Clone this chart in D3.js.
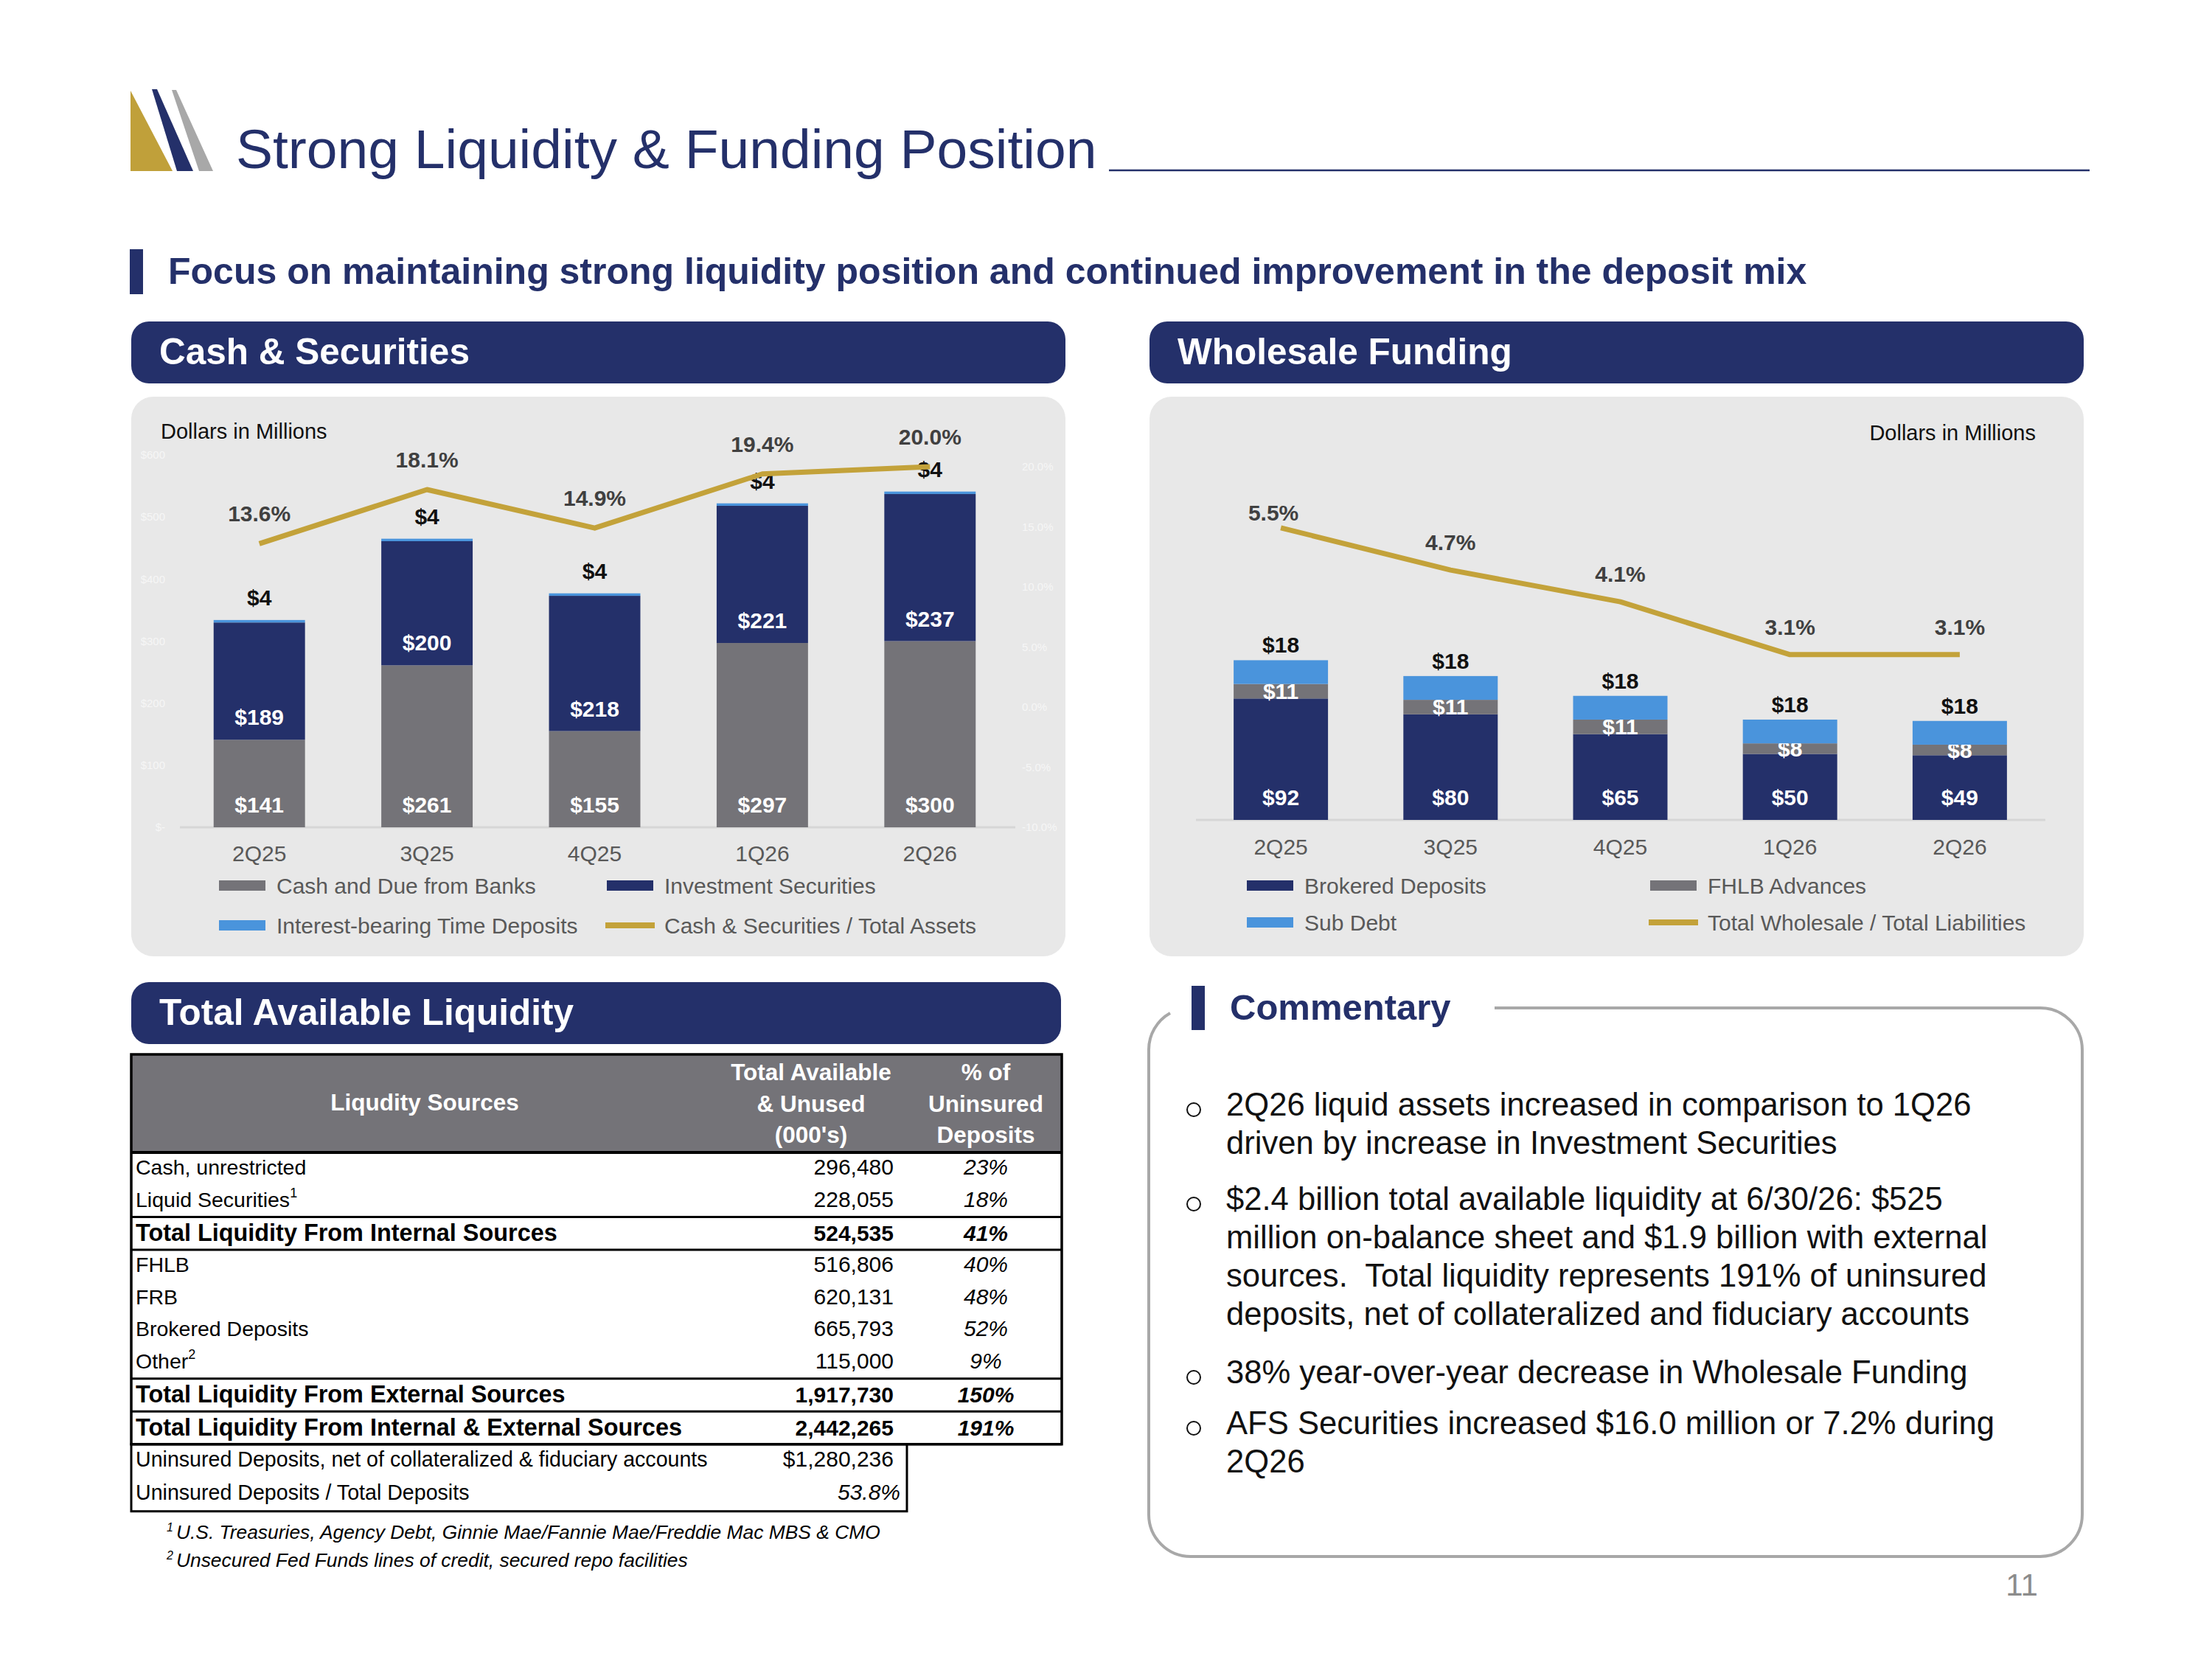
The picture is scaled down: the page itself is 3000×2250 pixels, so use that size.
<!DOCTYPE html>
<html>
<head>
<meta charset="utf-8">
<script src="https://cdn.jsdelivr.net/npm/d3@7"></script>
<style>
	body { margin: 0; background: #fff; }
	svg { display: block; font-family: "Liberation Sans", Arial, Helvetica, sans-serif; }
</style>
</head>
<body>
<div id="slide"></div>
<script>
/* ---- data ---- */
var quarters = ["2Q25", "3Q25", "4Q25", "1Q26", "2Q26"];

// Cash & Securities, $ millions
var cashDue = [141, 261, 155, 297, 300];
var investSec = [189, 200, 218, 221, 237];
var timeDeposits = [4, 4, 4, 4, 4];
var cashToAssets = [13.6, 18.1, 14.9, 19.4, 20.0];

// Wholesale Funding, $ millions
var brokered = [92, 80, 65, 50, 49];
var fhlbAdv = [11, 11, 11, 8, 8];
var subDebt = [18, 18, 18, 18, 18];
var wholesaleToLiab = [5.5, 4.7, 4.1, 3.1, 3.1];

// Total Available Liquidity table
var liqLabels = ["Cash, unrestricted", "Liquid Securities", "Total Liquidity From Internal Sources",
	"FHLB", "FRB", "Brokered Deposits", "Other",
	"Total Liquidity From External Sources", "Total Liquidity From Internal & External Sources"];
var liqSup = ["", "1", "", "", "", "", "2", "", ""];
var liqAmounts = [296480, 228055, 524535, 516806, 620131, 665793, 115000, 1917730, 2442265];
var liqPctUninsured = [23, 18, 41, 40, 48, 52, 9, 150, 191];
var liqTotals = [false, false, true, false, false, false, false, true, true];
var uninsuredLabels = ["Uninsured Deposits, net of collateralized & fiduciary accounts", "Uninsured Deposits / Total Deposits"];
var uninsuredValues = ["$1,280,236", "53.8%"];
var footnotes = ["U.S. Treasuries, Agency Debt, Ginnie Mae/Fannie Mae/Freddie Mac MBS & CMO",
	"Unsecured Fed Funds lines of credit, secured repo facilities"];

var commentary = [
	["2Q26 liquid assets increased in comparison to 1Q26", "driven by increase in Investment Securities"],
	["$2.4 billion total available liquidity at 6/30/26: $525", "million on-balance sheet and $1.9 billion with external",
		"sources.  Total liquidity represents 191% of uninsured", "deposits, net of collateralized and fiduciary accounts"],
	["38% year-over-year decrease in Wholesale Funding"],
	["AFS Securities increased $16.0 million or 7.2% during", "2Q26"]
];

/* ---- style ---- */
var NAVY = "#24306a", GRAY = "#747378", BLUE = "#4a94dc", GOLD = "#c3a23a",
	PANEL = "#e8e8e8", TXT = "#595959", LBL = "#404040";

var svg = d3.select("#slide").append("svg").attr("width", 3000).attr("height", 2250);
svg.append("rect").attr("width", 3000).attr("height", 2250).attr("fill", "#fff");

/* ---- title ---- */
var logo = svg.append("g");
logo.append("polygon").attr("points", "177,123 177,232 234,232").attr("fill", "#c0a03a");
logo.append("polygon").attr("points", "206,121 213,121 262,232 240,232").attr("fill", NAVY);
logo.append("polygon").attr("points", "233,122 239,122 289,232 270,232").attr("fill", "#a8a8a8");

svg.append("text").attr("x", 320).attr("y", 228)
	.attr("font-size", 75).attr("fill", NAVY)
	.text("Strong Liquidity & Funding Position");
svg.append("line").attr("x1", 1504).attr("x2", 2834).attr("y1", 231).attr("y2", 231)
	.attr("stroke", NAVY).attr("stroke-width", 2.5);

svg.append("rect").attr("x", 176).attr("y", 338).attr("width", 18).attr("height", 61).attr("fill", NAVY);
svg.append("text").attr("x", 228).attr("y", 385)
	.attr("font-size", 50).attr("font-weight", "bold").attr("fill", NAVY)
	.text("Focus on maintaining strong liquidity position and continued improvement in the deposit mix");

function header(x, y, w, label) {
	svg.append("rect").attr("x", x).attr("y", y).attr("width", w).attr("height", 84)
		.attr("rx", 24).attr("fill", NAVY);
	svg.append("text").attr("x", x + 38).attr("y", y + 58)
		.attr("font-size", 49.5).attr("font-weight", "bold").attr("fill", "#fff").text(label);
}
header(178, 436, 1267, "Cash & Securities");
header(1559, 436, 1267, "Wholesale Funding");
header(178, 1332, 1261, "Total Available Liquidity");

svg.append("rect").attr("x", 178).attr("y", 538).attr("width", 1267).attr("height", 759).attr("rx", 30).attr("fill", PANEL);
svg.append("rect").attr("x", 1559).attr("y", 538).attr("width", 1267).attr("height", 759).attr("rx", 30).attr("fill", PANEL);

function legend(items) {
	items.forEach(function(it) {
		var g = svg.append("g").attr("transform", "translate(" + it.x + "," + it.y + ")");
		if (it.line) {
			g.append("line").attr("x1", -2).attr("x2", 65).attr("stroke", it.color).attr("stroke-width", 8);
		} else {
			g.append("rect").attr("x", 0).attr("y", -7).attr("width", 63).attr("height", 14).attr("fill", it.color);
		}
		g.append("text").attr("x", 78).attr("y", 10.5).attr("font-size", 30).attr("fill", TXT).text(it.label);
	});
}

/* ---- Cash & Securities chart ---- */
var cashRows = quarters.map(function(q, i) {
	return { q: q, cash: cashDue[i], inv: investSec[i], tdep: timeDeposits[i], pct: cashToAssets[i] };
});
var xC = d3.scaleBand().domain(quarters).range([238, 1375]).paddingInner(0.455).paddingOuter(0.2275);
var yC = d3.scaleLinear().domain([0, 600]).range([1122, 617]);
var yCR = d3.scaleLinear().domain([-10, 20]).range([1122, 633]);
var cashColors = { cash: GRAY, inv: NAVY, tdep: BLUE };
var cashStack = d3.stack().keys(["cash", "inv", "tdep"])(cashRows);

var gC = svg.append("g");
gC.append("g").attr("transform", "translate(228,0)")
	.call(d3.axisLeft(yC).ticks(6).tickSize(0).tickPadding(4).tickFormat(function(d) { return d === 0 ? "$-" : "$" + d; }))
	.call(function(a) { a.select(".domain").remove(); a.selectAll("text").attr("fill", "#f6f6f6").attr("font-size", 15).attr("font-family", null); });
gC.append("g").attr("transform", "translate(1382,0)")
	.call(d3.axisRight(yCR).ticks(6).tickSize(0).tickPadding(4).tickFormat(function(d) { return d.toFixed(1) + "%"; }))
	.call(function(a) { a.select(".domain").remove(); a.selectAll("text").attr("fill", "#f6f6f6").attr("font-size", 15).attr("font-family", null); });

gC.append("line").attr("x1", 244).attr("x2", 1377).attr("y1", yC(0)).attr("y2", yC(0))
	.attr("stroke", "#d6d6d6").attr("stroke-width", 3);

cashStack.forEach(function(layer) {
	gC.append("g").attr("fill", cashColors[layer.key]).selectAll("rect").data(layer).enter().append("rect")
		.attr("x", function(d) { return xC(d.data.q); })
		.attr("width", xC.bandwidth())
		.attr("y", function(d) { return yC(d[1]); })
		.attr("height", function(d) { return yC(d[0]) - yC(d[1]); });
	gC.append("g").selectAll("text").data(layer).enter().append("text")
		.attr("x", function(d) { return xC(d.data.q) + xC.bandwidth() / 2; })
		.attr("y", function(d) { return layer.key === "tdep" ? yC(d[1]) - 20 : yC(d[0]) - 20; })
		.attr("text-anchor", "middle").attr("font-size", 30).attr("font-weight", "bold")
		.attr("fill", layer.key === "tdep" ? "#111" : "#fff")
		.text(function(d) { return "$" + d.data[layer.key]; });
});

var lineC = d3.line().x(function(d) { return xC(d.q) + xC.bandwidth() / 2; }).y(function(d) { return yCR(d.pct); });
gC.append("path").datum(cashRows).attr("d", lineC).attr("fill", "none")
	.attr("stroke", GOLD).attr("stroke-width", 7).attr("stroke-linejoin", "round");
gC.append("g").selectAll("text").data(cashRows).enter().append("text")
	.attr("x", function(d) { return xC(d.q) + xC.bandwidth() / 2; })
	.attr("y", function(d) { return yCR(d.pct) - 30; })
	.attr("text-anchor", "middle").attr("font-size", 30).attr("font-weight", "bold").attr("fill", LBL)
	.text(function(d) { return d.pct.toFixed(1) + "%"; });

gC.append("g").attr("transform", "translate(0," + yC(0) + ")")
	.call(d3.axisBottom(xC).tickSize(0).tickPadding(0))
	.call(function(a) { a.select(".domain").remove(); a.selectAll("text").attr("y", 46).attr("dy", null).attr("fill", TXT).attr("font-size", 30).attr("font-family", null); });

gC.append("text").attr("x", 218).attr("y", 595).attr("font-size", 29).attr("fill", "#111").text("Dollars in Millions");

legend([
	{ x: 297, y: 1201, color: GRAY, label: "Cash and Due from Banks" },
	{ x: 823, y: 1201, color: NAVY, label: "Investment Securities" },
	{ x: 297, y: 1255, color: BLUE, label: "Interest-bearing Time Deposits" },
	{ x: 823, y: 1255, color: GOLD, label: "Cash & Securities / Total Assets", line: true }
]);

/* ---- Wholesale Funding chart ---- */
var wsRows = quarters.map(function(q, i) {
	return { q: q, brk: brokered[i], fhlb: fhlbAdv[i], sub: subDebt[i], pct: wholesaleToLiab[i] };
});
var xW = d3.scaleBand().domain(quarters).range([1622, 2773]).paddingInner(0.444).paddingOuter(0.222);
var yW = d3.scaleLinear().domain([0, 100]).range([1112, 933]);
var yWR = d3.scaleLinear().domain([0, 6]).range([1110, 680]);
var wsColors = { brk: NAVY, fhlb: GRAY, sub: BLUE };
var wsStack = d3.stack().keys(["brk", "fhlb", "sub"])(wsRows);

var gW = svg.append("g");
gW.append("line").attr("x1", 1622).attr("x2", 2774).attr("y1", yW(0)).attr("y2", yW(0))
	.attr("stroke", "#d6d6d6").attr("stroke-width", 3);

wsStack.forEach(function(layer) {
	gW.append("g").attr("fill", wsColors[layer.key]).selectAll("rect").data(layer).enter().append("rect")
		.attr("x", function(d) { return xW(d.data.q); })
		.attr("width", xW.bandwidth())
		.attr("y", function(d) { return yW(d[1]); })
		.attr("height", function(d) { return yW(d[0]) - yW(d[1]); });
	gW.append("g").selectAll("text").data(layer).enter().append("text")
		.attr("x", function(d) { return xW(d.data.q) + xW.bandwidth() / 2; })
		.attr("y", function(d) {
			if (layer.key === "sub") return yW(d[1]) - 10;
			if (layer.key === "fhlb") return (yW(d[0]) + yW(d[1])) / 2 + 10.5;
			return yW(d[0]) - 20;
		})
		.attr("text-anchor", "middle").attr("font-size", 30).attr("font-weight", "bold")
		.attr("fill", layer.key === "sub" ? "#111" : "#fff")
		.text(function(d) { return "$" + d.data[layer.key]; });
});

var lineW = d3.line().x(function(d) { return xW(d.q) + xW.bandwidth() / 2; }).y(function(d) { return yWR(d.pct); });
gW.append("path").datum(wsRows).attr("d", lineW).attr("fill", "none")
	.attr("stroke", GOLD).attr("stroke-width", 7).attr("stroke-linejoin", "round");
gW.append("g").selectAll("text").data(wsRows).enter().append("text")
	.attr("x", function(d, i) { return xW(d.q) + xW.bandwidth() / 2 - (i === 0 ? 10 : 0); })
	.attr("y", function(d, i) { return yWR(d.pct) - (i === 0 ? 10 : 27); })
	.attr("text-anchor", "middle").attr("font-size", 30).attr("font-weight", "bold").attr("fill", LBL)
	.text(function(d) { return d.pct.toFixed(1) + "%"; });

gW.append("g").attr("transform", "translate(0," + yW(0) + ")")
	.call(d3.axisBottom(xW).tickSize(0).tickPadding(0))
	.call(function(a) { a.select(".domain").remove(); a.selectAll("text").attr("y", 47).attr("dy", null).attr("fill", TXT).attr("font-size", 30).attr("font-family", null); });

gW.append("text").attr("x", 2761).attr("y", 597).attr("text-anchor", "end")
	.attr("font-size", 29).attr("fill", "#111").text("Dollars in Millions");

legend([
	{ x: 1691, y: 1201, color: NAVY, label: "Brokered Deposits" },
	{ x: 2238, y: 1201, color: GRAY, label: "FHLB Advances" },
	{ x: 1691, y: 1251, color: BLUE, label: "Sub Debt" },
	{ x: 2238, y: 1251, color: GOLD, label: "Total Wholesale / Total Liabilities", line: true }
]);

/* ---- Liquidity table ---- */
var T = svg.append("g");
var tL = 178, tR = 1440, tTop = 1430, tHead = 1563, amtX = 1212, pctX = 1337;
T.append("rect").attr("x", tL).attr("y", tTop).attr("width", tR - tL).attr("height", tHead - tTop).attr("fill", GRAY);
T.append("text").attr("x", 576).attr("y", 1506).attr("text-anchor", "middle")
	.attr("font-size", 31.5).attr("font-weight", "bold").attr("fill", "#fff").text("Liqudity Sources");
[["Total Available", "& Unused", "(000's)", 1100], ["% of", "Uninsured", "Deposits", pctX]].forEach(function(h) {
	[0, 1, 2].forEach(function(k) {
		T.append("text").attr("x", h[3]).attr("y", 1465 + k * 42.5).attr("text-anchor", "middle")
			.attr("font-size", 31.5).attr("font-weight", "bold").attr("fill", "#fff").text(h[k]);
	});
});

var fmt = d3.format(",");
var cursor = tHead;
var seps = [tHead];
liqLabels.forEach(function(lab, i) {
	var bold = liqTotals[i];
	var h = bold ? 44.5 : 43.7;
	var base = cursor + (bold ? 32.5 : 30);
	var t = T.append("text").attr("x", 184).attr("y", base)
		.attr("font-size", bold ? 32.4 : 28.5).attr("font-weight", bold ? "bold" : "normal").attr("fill", "#000").text(lab);
	if (liqSup[i]) t.append("tspan").attr("font-size", 18).attr("dy", -13).text(liqSup[i]);
	T.append("text").attr("x", amtX).attr("y", base).attr("text-anchor", "end")
		.attr("font-size", 30).attr("font-weight", bold ? "bold" : "normal").text(fmt(liqAmounts[i]));
	T.append("text").attr("x", pctX).attr("y", base).attr("text-anchor", "middle")
		.attr("font-size", 30).attr("font-style", "italic").attr("font-weight", bold ? "bold" : "normal")
		.text(liqPctUninsured[i] + "%");
	cursor += h;
	if (bold || liqTotals[i + 1]) seps.push(cursor);
});
T.selectAll("line.sep").data(seps).enter().append("line")
	.attr("x1", tL).attr("x2", tR).attr("y1", function(d) { return d; }).attr("y2", function(d) { return d; })
	.attr("stroke", "#000").attr("stroke-width", function(d, i) { return i === 0 ? 4 : 3; });
T.append("rect").attr("x", tL).attr("y", tTop).attr("width", tR - tL).attr("height", cursor - tTop)
	.attr("fill", "none").attr("stroke", "#000").attr("stroke-width", 3.5);

var uTop = cursor;
uninsuredLabels.forEach(function(lab, i) {
	var base = uTop + 30 + i * 45.5;
	T.append("text").attr("x", 184).attr("y", base).attr("font-size", 28.6).text(lab);
	T.append("text").attr("x", i === 0 ? amtX : 1221).attr("y", base).attr("text-anchor", "end")
		.attr("font-size", 30).attr("font-style", i === 1 ? "italic" : "normal").text(uninsuredValues[i]);
});
T.append("rect").attr("x", tL).attr("y", uTop).attr("width", 1230 - tL).attr("height", 91)
	.attr("fill", "none").attr("stroke", "#000").attr("stroke-width", 3);

footnotes.forEach(function(f, i) {
	var t = T.append("text").attr("x", 226).attr("y", 2087 + i * 38).attr("font-size", 26.4).attr("font-style", "italic");
	t.append("tspan").attr("font-size", 16).attr("dy", -10).text(i + 1);
	t.append("tspan").attr("dy", 10).attr("dx", 4).text(f);
});

/* ---- Commentary ---- */
var C = svg.append("g");
C.append("path")
	.attr("d", "M2027,1367 L2767,1367 A57,57 0 0 1 2824,1424 L2824,2054 A57,57 0 0 1 2767,2111 " +
		"L1615,2111 A57,57 0 0 1 1558,2054 L1558,1424 A57,57 0 0 1 1587,1374")
	.attr("fill", "none").attr("stroke", "#a8a8a8").attr("stroke-width", 4);
C.append("rect").attr("x", 1616).attr("y", 1337).attr("width", 18).attr("height", 60).attr("fill", NAVY);
C.append("text").attr("x", 1668).attr("y", 1383).attr("font-size", 49).attr("font-weight", "bold")
	.attr("fill", NAVY).text("Commentary");

var paraTop = [1513, 1641, 1876, 1945];
commentary.forEach(function(lines, p) {
	C.append("circle").attr("cx", 1619).attr("cy", paraTop[p] - 8).attr("r", 9)
		.attr("fill", "none").attr("stroke", "#111").attr("stroke-width", 2);
	lines.forEach(function(s, k) {
		C.append("text").attr("x", 1663).attr("y", paraTop[p] + k * 52)
			.attr("font-size", 43.6).attr("fill", "#111").attr("xml:space", "preserve").text(s);
	});
});

svg.append("text").attr("x", 2742).attr("y", 2164).attr("text-anchor", "middle")
	.attr("font-size", 42).attr("fill", "#8c8c8c").text("11");
</script>
</body>
</html>
